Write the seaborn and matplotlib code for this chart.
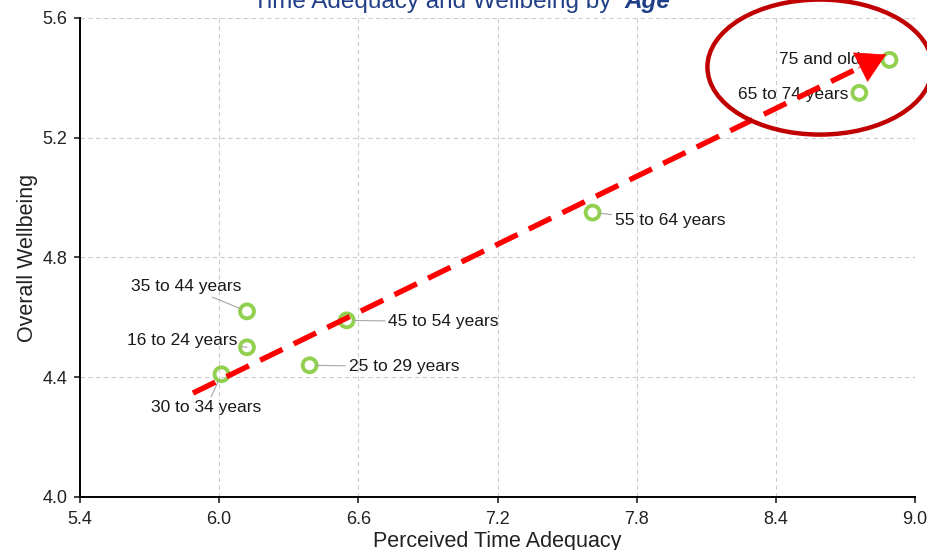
import matplotlib
matplotlib.use("Agg")
import matplotlib.pyplot as plt
import seaborn as sns
import pandas as pd
from matplotlib.patches import Ellipse

# data
age_groups = ['16 to 24 years', '25 to 29 years', '30 to 34 years', '35 to 44 years',
              '45 to 54 years', '55 to 64 years', '65 to 74 years', '75 and older']
time_adequacy = [6.12, 6.39, 6.01, 6.12, 6.55, 7.61, 8.76, 8.89]
wellbeing = [4.50, 4.44, 4.41, 4.62, 4.59, 4.95, 5.35, 5.46]
# label offsets in points (dx, dy) and horizontal alignment
label_offsets = [(-7, 5), (28, -1), (-11, -24), (-4, 18), (30, -1), (16, -6), (-8, -1), (-10, 0)]
label_ha = ['right', 'left', 'center', 'right', 'left', 'left', 'right', 'right']

df = pd.DataFrame({'Age': age_groups, 'Time': time_adequacy, 'Wellbeing': wellbeing})

sns.set_theme(style='white')
plt.rcParams['font.family'] = ['Liberation Sans', 'DejaVu Sans']

fig = plt.figure(figsize=(9.28, 5.5), dpi=100)
ax = fig.add_axes([0.0862, 0.0964, 0.8998, 0.8709])

ax.grid(True, linestyle=(0, (4, 3)), color='#cccccc', linewidth=0.8)
ax.set_axisbelow(True)

sns.scatterplot(data=df, x='Time', y='Wellbeing', ax=ax, s=100,
                facecolor='none', edgecolor='#92d050', linewidth=2.8, zorder=3)

for name, x, y, (dx, dy), ha in zip(age_groups, time_adequacy, wellbeing, label_offsets, label_ha):
    ax.annotate(name, xy=(x, y), xytext=(dx, dy), textcoords='offset points',
                ha=ha, va='center', fontsize=12.5, color='#1a1a1a', zorder=4,
                arrowprops=dict(arrowstyle='-', color='#a6a6a6', lw=0.8,
                                shrinkA=0, shrinkB=5))

# trend arrow: dashed shaft plus solid head
start, tip = (5.887, 4.347), (8.875, 5.478)
neck = (tip[0] - 0.11, tip[1] - 0.042)
ax.annotate('', xy=neck, xytext=start,
            arrowprops=dict(arrowstyle='-', color='#ff0000', lw=3.9,
                            linestyle=(0, (4.6, 2.3)), shrinkA=0, shrinkB=0,
                            capstyle='butt'), zorder=5)
ax.annotate('', xy=tip, xytext=(neck[0] - 0.01, neck[1] - 0.004),
            arrowprops=dict(arrowstyle='-|>,head_length=1.05,head_width=0.6', color='#ff0000',
                            lw=0.5, mutation_scale=19, shrinkA=0, shrinkB=0), zorder=5)

# highlight ellipse
ax.add_patch(Ellipse((8.59, 5.436), 0.97, 0.451, fill=False, edgecolor='#c00000',
                     linewidth=3.2, clip_on=False, zorder=6))

ax.set_xlim(5.4, 9.0)
ax.set_ylim(4.0, 5.6)
ax.set_xticks([5.4, 6.0, 6.6, 7.2, 7.8, 8.4, 9.0])
ax.set_yticks([4.0, 4.4, 4.8, 5.2, 5.6])
ax.xaxis.set_major_formatter(matplotlib.ticker.FormatStrFormatter('%.1f'))
ax.yaxis.set_major_formatter(matplotlib.ticker.FormatStrFormatter('%.1f'))
ax.tick_params(axis='both', labelsize=13, colors='#222222', length=4, width=1.2,
               direction='out', bottom=True, left=True)
ax.tick_params(axis='x', pad=6)
ax.tick_params(axis='y', pad=5)
for side in ['top', 'right']:
    ax.spines[side].set_visible(False)
for side in ['left', 'bottom']:
    ax.spines[side].set_color('black')
    ax.spines[side].set_linewidth(1.4)

ax.set_xlabel('Perceived Time Adequacy', fontsize=15.5, color='#222222', labelpad=2)
ax.set_ylabel('Overall Wellbeing', fontsize=15.5, color='#222222', labelpad=3)

fig.text(0.6665, 0.997, 'Time Adequacy and Wellbeing by ', ha='right', va='center',
         fontsize=17.5, color='#203f87')
fig.text(0.6725, 0.997, 'Age', ha='left', va='center', fontsize=17.5, color='#203f87',
         fontweight='bold', fontstyle='italic')

fig.savefig('out.png', dpi=100)
